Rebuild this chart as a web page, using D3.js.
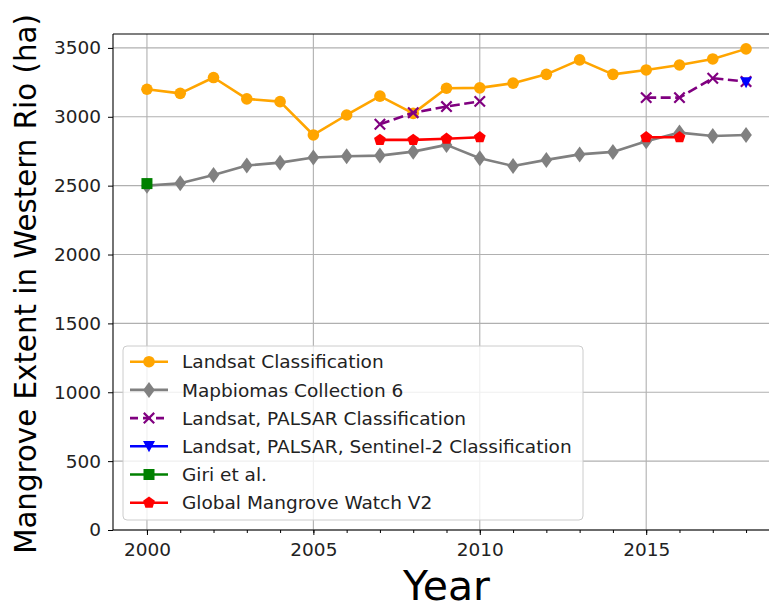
<!DOCTYPE html>
<html><head><meta charset="utf-8">
<script src="https://cdn.jsdelivr.net/npm/d3@7"></script>
<style>html,body{margin:0;padding:0;background:#fff;overflow:hidden}svg{display:block;font-family:"DejaVu Sans",sans-serif}</style>
</head><body>
<svg id="chart" width="769" height="605"></svg>
<script>
const years = [2000,2001,2002,2003,2004,2005,2006,2007,2008,2009,2010,2011,2012,2013,2014,2015,2016,2017,2018];
const landsat = [3200,3170,3285,3130,3110,2868,3013,3150,3025,3207,3210,3244,3308,3413,3308,3340,3376,3420,3493];
const mapbiomas = [2500,2517,2578,2646,2667,2704,2714,2718,2747,2796,2699,2643,2687,2727,2745,2822,2885,2860,2868];
const palsarYears = [2007,2008,2009,2010,2011,2012,2013,2014,2015,2016,2017,2018];
const palsar = [2946,3030,3074,3112,null,null,null,null,3139,3139,3280,3256];
const sentinelYears = [2018];
const sentinel = [3250];
const giriYears = [2000];
const giri = [2515];
const gmwYears = [2007,2008,2009,2010,2011,2012,2013,2014,2015,2016];
const gmw = [2832,2832,2840,2851,null,null,null,null,2851,2851];
const yTicks = [0,500,1000,1500,2000,2500,3000,3500];
const xTicks = [2000,2005,2010,2015];
const seriesNames = ["Landsat Classification","Mapbiomas Collection 6","Landsat, PALSAR Classification","Landsat, PALSAR, Sentinel-2 Classification","Giri et al.","Global Mangrove Watch V2"];

const svg = d3.select("#chart");
const L = 113, R = 780, T = 34, B = 530;
const x = d3.scaleLinear().domain([1998.98, 2019.02]).range([L, R]);
const y = d3.scaleLinear().domain([0, 3601]).range([B, T]);

// grid
const g = svg.append("g");
g.selectAll(".gx").data(xTicks).enter().append("line")
  .attr("x1", d => x(d)).attr("x2", d => x(d)).attr("y1", T).attr("y2", B)
  .attr("stroke", "#b0b0b0").attr("stroke-width", 1.1);
g.selectAll(".gy").data(yTicks).enter().append("line")
  .attr("x1", L).attr("x2", R).attr("y1", d => y(d)).attr("y2", d => y(d))
  .attr("stroke", "#b0b0b0").attr("stroke-width", 1.1);

// markers
function marker(sel, type, color, px, py) {
  if (type === "circle") {
    sel.append("circle").attr("cx", px).attr("cy", py).attr("r", 5.8).attr("fill", color);
  } else if (type === "thindiamond") {
    sel.append("path").attr("d", `M${px},${py-8}L${px+5.8},${py}L${px},${py+8}L${px-5.8},${py}Z`).attr("fill", color);
  } else if (type === "x") {
    const s = 5.2;
    sel.append("path").attr("d", `M${px-s},${py-s}L${px+s},${py+s}M${px-s},${py+s}L${px+s},${py-s}`)
      .attr("stroke", color).attr("stroke-width", 2.2).attr("fill", "none");
  } else if (type === "tridown") {
    sel.append("path").attr("d", `M${px-6},${py-5.2}L${px+6},${py-5.2}L${px},${py+6}Z`).attr("fill", color);
  } else if (type === "square") {
    sel.append("rect").attr("x", px-5.5).attr("y", py-5.5).attr("width", 11).attr("height", 11).attr("fill", color);
  } else if (type === "pentagon") {
    const r = 6.2;
    const pts = d3.range(5).map(i => { const a = -Math.PI/2 + i*2*Math.PI/5; return [px + r*Math.cos(a), py + r*Math.sin(a)]; });
    sel.append("path").attr("d", "M" + pts.map(p => p.join(",")).join("L") + "Z").attr("fill", color);
  }
}

const series = [
  {name: seriesNames[0], xs: years, ys: landsat, color: "#FFA500", m: "circle", dash: null},
  {name: seriesNames[1], xs: years, ys: mapbiomas, color: "#808080", m: "thindiamond", dash: null},
  {name: seriesNames[2], xs: palsarYears, ys: palsar, color: "#800080", m: "x", dash: "10,4.5"},
  {name: seriesNames[3], xs: sentinelYears, ys: sentinel, color: "#0000FF", m: "tridown", dash: null},
  {name: seriesNames[4], xs: giriYears, ys: giri, color: "#008000", m: "square", dash: null},
  {name: seriesNames[5], xs: gmwYears, ys: gmw, color: "#FF0000", m: "pentagon", dash: null}
];

const plot = svg.append("g");
series.forEach(s => {
  const pts = s.xs.map((xv, i) => [xv, s.ys[i]]);
  const line = d3.line().defined(d => d[1] !== null).x(d => x(d[0])).y(d => y(d[1]));
  const gg = plot.append("g");
  gg.append("path").datum(pts).attr("d", line).attr("fill", "none").attr("stroke", s.color)
    .attr("stroke-width", 2.6).attr("stroke-dasharray", s.dash).attr("stroke-linejoin", "round");
  pts.filter(d => d[1] !== null).forEach(d => marker(gg, s.m, s.color, x(d[0]), y(d[1])));
});

// spines
svg.append("line").attr("x1", L).attr("x2", L).attr("y1", T).attr("y2", B).attr("stroke", "#000").attr("stroke-width", 1.1);
svg.append("line").attr("x1", L).attr("x2", R).attr("y1", B).attr("y2", B).attr("stroke", "#000").attr("stroke-width", 1.1);
svg.append("line").attr("x1", L).attr("x2", R).attr("y1", T).attr("y2", T).attr("stroke", "#000").attr("stroke-width", 1.1);

// axes
const yAxis = d3.axisLeft(y).tickValues(yTicks).tickSize(5).tickPadding(7).tickFormat(d3.format("d"));
const ya = svg.append("g").attr("transform", `translate(${L},0)`).call(yAxis);
ya.select(".domain").remove();
ya.selectAll("text").attr("font-size", 18.5).attr("fill", "#222").attr("font-family", "DejaVu Sans");

const xMinor = d3.axisBottom(x).tickValues(years).tickSize(3).tickFormat("");
const xm = svg.append("g").attr("transform", `translate(0,${B})`).call(xMinor);
xm.select(".domain").remove();
const xAxis = d3.axisBottom(x).tickValues(xTicks).tickSize(5).tickPadding(8).tickFormat(d3.format("d"));
const xa = svg.append("g").attr("transform", `translate(0,${B})`).call(xAxis);
xa.select(".domain").remove();
xa.selectAll("text").attr("font-size", 18.5).attr("fill", "#222").attr("font-family", "DejaVu Sans");

// axis labels
svg.append("text").attr("transform", `translate(36,${(T+B)/2 + 2}) rotate(-90)`).attr("text-anchor", "middle")
  .attr("font-size", 29.3).attr("fill", "#000").text("Mangrove Extent in Western Rio (ha)");
svg.append("text").attr("x", (L+R)/2).attr("y", 600).attr("text-anchor", "middle")
  .attr("font-size", 41).attr("fill", "#000").text("Year");

// legend
const leg = svg.append("g");
leg.append("rect").attr("x", 123).attr("y", 346).attr("width", 460).attr("height", 174).attr("rx", 4)
  .attr("fill", "#fff").attr("fill-opacity", 0.8).attr("stroke", "#cccccc").attr("stroke-width", 1);
series.forEach((s, i) => {
  const cy = 361.7 + i * 28.2;
  const row = leg.append("g");
  row.append("line").attr("x1", 130).attr("x2", 168).attr("y1", cy).attr("y2", cy)
    .attr("stroke", s.color).attr("stroke-width", 2.6).attr("stroke-dasharray", s.dash ? "8,5" : null);
  marker(row, s.m, s.color, 149, cy);
  row.append("text").attr("x", 182).attr("y", cy).attr("dy", "0.36em").attr("font-size", 18.5)
    .attr("fill", "#222").text(s.name);
});
</script>
</body></html>
